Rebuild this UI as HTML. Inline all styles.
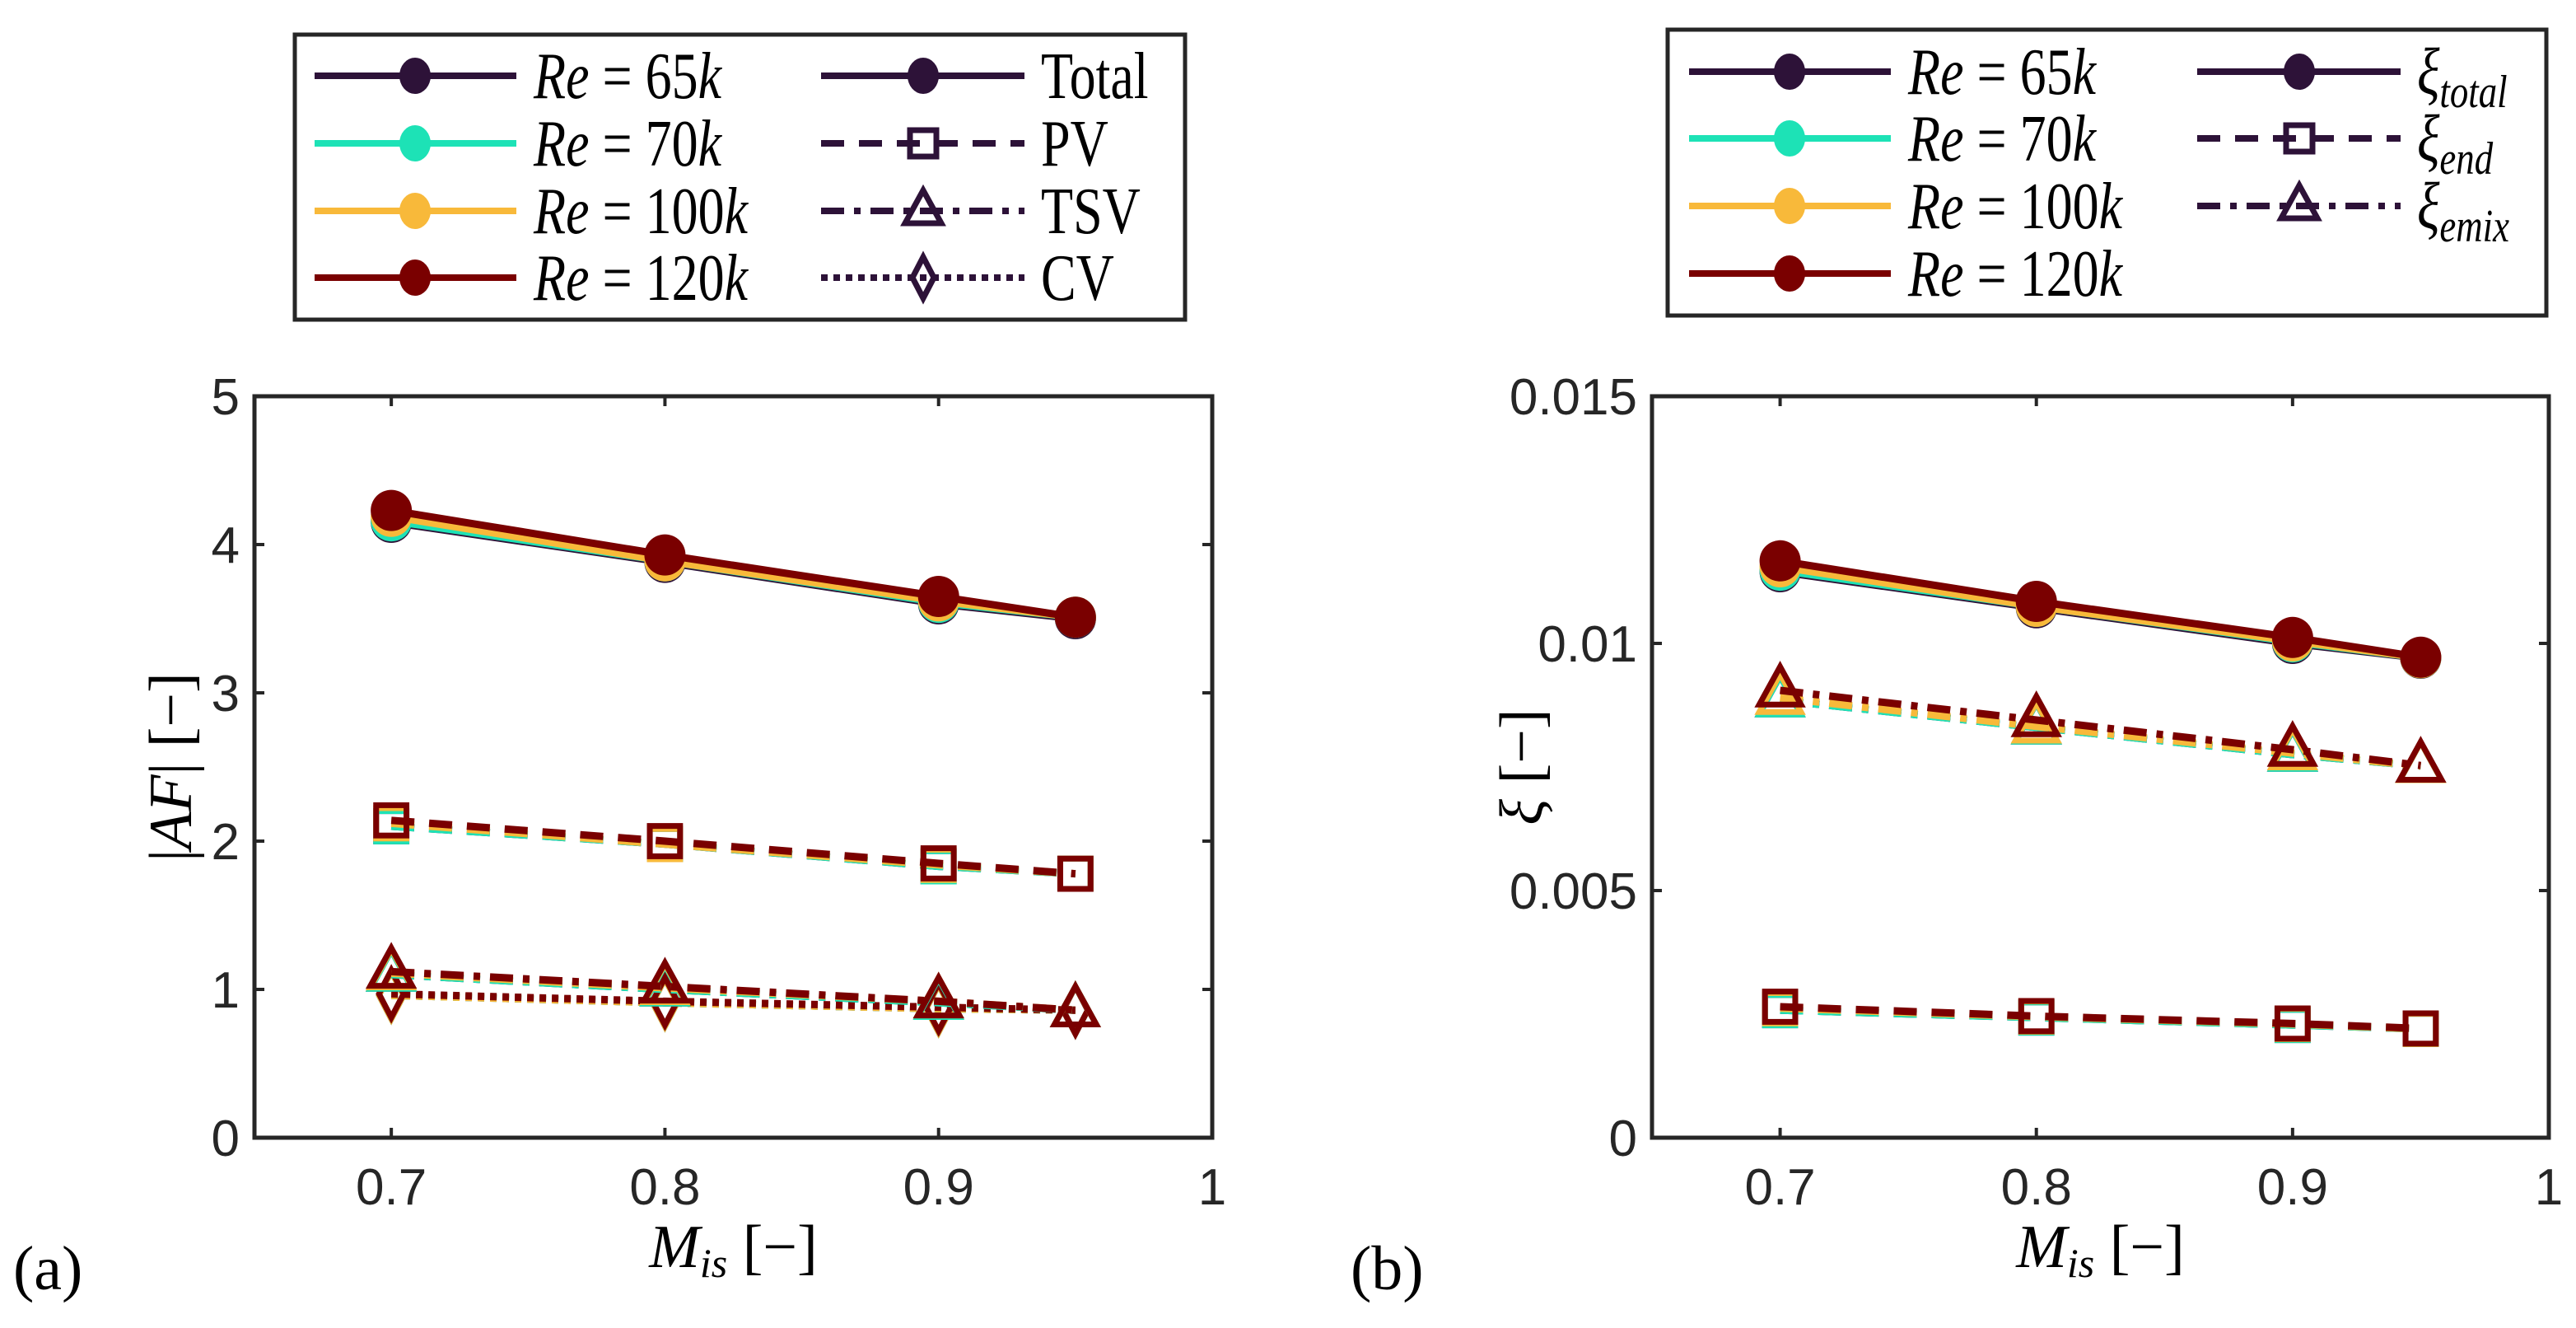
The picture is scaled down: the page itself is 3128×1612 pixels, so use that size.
<!DOCTYPE html>
<html><head><meta charset="utf-8"><style>
html,body{margin:0;padding:0;background:#fff;}
svg{display:block;}
text{font-family:"Liberation Sans",sans-serif;fill:#262626;}
.ser{font-family:"Liberation Serif",serif;fill:#000;}
</style></head><body>
<svg id="fig" width="3128" height="1612" viewBox="0 0 3128 1612" xmlns="http://www.w3.org/2000/svg"></svg>
<script>
// ---- data ----
const machValues = [0.7, 0.8, 0.9, 0.95];
const reLabels = ["65k", "70k", "100k", "120k"];
const reColors = ["#2d1238", "#1de2b6", "#f8b93a", "#7a0000"];
// Panel (a) |AF|
const afTotal65 = [4.15, 3.88, 3.60, 3.50];
const afTotal70 = [4.16, 3.89, 3.61, 3.51];
const afTotal100 = [4.19, 3.89, 3.62, 3.51];
const afTotal120 = [4.23, 3.93, 3.65, 3.51];
const afPV65 = [2.10, 1.98, 1.83, 1.78];
const afPV70 = [2.10, 1.98, 1.83, 1.78];
const afPV100 = [2.12, 1.98, 1.84, 1.78];
const afPV120 = [2.14, 2.00, 1.85, 1.78];
const afTSV65 = [1.10, 1.00, 0.91, 0.86];
const afTSV70 = [1.10, 1.00, 0.91, 0.86];
const afTSV100 = [1.11, 1.01, 0.92, 0.86];
const afTSV120 = [1.12, 1.02, 0.92, 0.86];
const afCV65 = [0.96, 0.91, 0.87, 0.86];
const afCV70 = [0.96, 0.91, 0.87, 0.86];
const afCV100 = [0.96, 0.91, 0.87, 0.86];
const afCV120 = [0.97, 0.92, 0.88, 0.86];
// Panel (b) xi
const xiTotal65 = [0.01145, 0.01072, 0.01000, 0.00970];
const xiTotal70 = [0.01148, 0.01075, 0.01003, 0.00971];
const xiTotal100 = [0.01155, 0.01075, 0.01005, 0.00971];
const xiTotal120 = [0.01167, 0.01085, 0.01012, 0.00972];
const xiEnd65 = [0.00258, 0.00243, 0.00228, 0.00220];
const xiEnd70 = [0.00258, 0.00243, 0.00228, 0.00220];
const xiEnd100 = [0.00262, 0.00245, 0.00230, 0.00220];
const xiEnd120 = [0.00265, 0.00246, 0.00231, 0.00221];
const xiEmix65 = [0.00885, 0.00830, 0.00775, 0.00752];
const xiEmix70 = [0.00885, 0.00830, 0.00775, 0.00752];
const xiEmix100 = [0.00890, 0.00832, 0.00778, 0.00752];
const xiEmix120 = [0.00905, 0.00845, 0.00785, 0.00753];
const xTicks = [0.7, 0.8, 0.9, 1];
const xTickLabels = ["0.7", "0.8", "0.9", "1"];
const afTicks = [0, 1, 2, 3, 4, 5];
const afTickLabels = ["0", "1", "2", "3", "4", "5"];
const xiTicks = [0, 0.005, 0.01, 0.015];
const xiTickLabels = ["0", "0.005", "0.01", "0.015"];

const NS = "http://www.w3.org/2000/svg";
const svg = document.getElementById("fig");
function mk(tag, attrs, parent){
  const e = document.createElementNS(NS, tag);
  for (const k in attrs) e.setAttribute(k, attrs[k]);
  (parent || svg).appendChild(e);
  return e;
}
const DASH = {solid:"", dash:"28 18", dashdot:"28 12 8 12", dot:"8 7"};

function marker(g, type, x, y, color, big){
  let m;
  const s = big ? 1.15 : 1;
  if (type === "circle") m = mk("circle", {cx:x, cy:y, r:big?25:19, fill:color}, g);
  else if (type === "square") m = mk("rect", {x:x-16*s, y:y-16*s, width:32*s, height:32*s, fill:"none", stroke:color, "stroke-width":7}, g);
  else if (type === "triangle") m = mk("polygon", {points:`${x},${y-25*s} ${x+22*s},${y+15*s} ${x-22*s},${y+15*s}`, fill:"none", stroke:color, "stroke-width":7}, g);
  else m = mk("polygon", {points:`${x},${y-25*s} ${x+13*s},${y} ${x},${y+25*s} ${x-13*s},${y}`, fill:"none", stroke:color, "stroke-width":7}, g);
  return m;
}

function panel(p){
  const X = v => p.x0 + (v - p.xmin) / (p.xmax - p.xmin) * (p.x1 - p.x0);
  const Y = v => p.y1 - (v - p.ymin) / (p.ymax - p.ymin) * (p.y1 - p.y0);
  const g = mk("g", {});
  
  
  p.series.forEach(s => {
    const sg = mk("g", {}, g);
    
    
    const pts = machValues.map((m, i) => X(m) + "," + Y(s.values[i])).join(" ");
    const pl = mk("polyline", {points:pts, fill:"none", stroke:s.color, "stroke-width":9, "stroke-dasharray":DASH[s.dash]}, sg);
    
    
    machValues.forEach((m, i) => {
      const mm = marker(sg, s.marker, X(m), Y(s.values[i]), s.color, true);
      
      
    });
  });
  const box = mk("rect", {x:p.x0, y:p.y0, width:p.x1-p.x0, height:p.y1-p.y0, fill:"none", stroke:"#262626", "stroke-width":5});
  
  
  xTicks.forEach((t, i) => {
    const x = X(t);
    mk("line", {x1:x, x2:x, y1:p.y1, y2:p.y1-12, stroke:"#262626", "stroke-width":4});
    mk("line", {x1:x, x2:x, y1:p.y0, y2:p.y0+12, stroke:"#262626", "stroke-width":4});
    const tl = mk("text", {x:x, y:1462, "font-size":62, "text-anchor":"middle"});
    tl.textContent = xTickLabels[i];
    
    
  });
  p.yTicks.forEach((t, i) => {
    const y = Y(t);
    mk("line", {x1:p.x0, x2:p.x0+12, y1:y, y2:y, stroke:"#262626", "stroke-width":4});
    mk("line", {x1:p.x1, x2:p.x1-12, y1:y, y2:y, stroke:"#262626", "stroke-width":4});
    const tl = mk("text", {x:p.x0-18, y:y+22, "font-size":62, "text-anchor":"end"});
    tl.textContent = p.yTickLabels[i];
    
    
  });
  const xl = mk("text", {x:(p.x0+p.x1)/2, y:1538, "font-size":74, "text-anchor":"middle", class:"ser", fill:"#333"});
  xl.innerHTML = '<tspan font-style="italic">M</tspan><tspan font-style="italic" font-size="50" dy="12">is</tspan><tspan dy="-12"> [−]</tspan>';
  
  
  const yl = mk("text", {x:0, y:0, "font-size":74, "text-anchor":"middle", class:"ser", transform:`translate(${p.ylx},${(p.y0+p.y1)/2}) rotate(-90)`});
  yl.innerHTML = p.ylabel;
  
  
  const pl = mk("text", {x:p.tagx, y:1565, "font-size":76, class:"ser"});
  pl.textContent = p.tag;
  
  
}

function ser(prefix, arrs, marker, dash){
  return arrs.map((v, i) => ({name: prefix + "-re" + reLabels[i], values:v, color:reColors[i], marker, dash}));
}

panel({name:"panel-a", x0:309, x1:1472, y0:481, y1:1381, xmin:0.65, xmax:1, ymin:0, ymax:5,
  yTicks:afTicks, yTickLabels:afTickLabels, ylx:232, tag:"(a)", tagx:16,
  ylabel:'|<tspan font-style="italic">AF</tspan>| [−]',
  series:[].concat(
    ser("cv", [afCV65, afCV70, afCV100, afCV120], "diamond", "dot"),
    ser("tsv", [afTSV65, afTSV70, afTSV100, afTSV120], "triangle", "dashdot"),
    ser("pv", [afPV65, afPV70, afPV100, afPV120], "square", "dash"),
    ser("total", [afTotal65, afTotal70, afTotal100, afTotal120], "circle", "solid"))});

panel({name:"panel-b", x0:2006, x1:3095, y0:481, y1:1381, xmin:0.65, xmax:1, ymin:0, ymax:0.015,
  yTicks:xiTicks, yTickLabels:xiTickLabels, ylx:1872, tag:"(b)", tagx:1640,
  ylabel:'<tspan font-style="italic">ξ</tspan> [−]',
  series:[].concat(
    ser("end", [xiEnd65, xiEnd70, xiEnd100, xiEnd120], "square", "dash"),
    ser("emix", [xiEmix65, xiEmix70, xiEmix100, xiEmix120], "triangle", "dashdot"),
    ser("total", [xiTotal65, xiTotal70, xiTotal100, xiTotal120], "circle", "solid"))});

// ---- legends ----
function legend(name, bx, by, bw, bh, col1x, col2x, rows, typeEntries){
  const g = mk("g", {});
  
  
  mk("rect", {x:bx, y:by, width:bw, height:bh, fill:"#fff", stroke:"#262626", "stroke-width":5}, g);
  reLabels.forEach((r, i) => {
    const y = rows[i];
    const e = mk("g", {}, g);
    
    
    mk("line", {x1:col1x, x2:col1x+245, y1:y, y2:y, stroke:reColors[i], "stroke-width":8}, e);
    mk("ellipse", {cx:col1x+122, cy:y, rx:19, ry:22, fill:reColors[i]}, e);
    const t = mk("text", {x:0, y:0, "font-size":80, class:"ser", transform:`translate(${col1x+266},${y+27}) scale(0.8,1)`}, e);
    t.innerHTML = '<tspan font-style="italic">Re</tspan> = ' + r.replace('k','') + '<tspan font-style="italic">k</tspan>';
  });
  typeEntries.forEach((te, i) => {
    const y = rows[i];
    const e = mk("g", {}, g);
    
    
    mk("line", {x1:col2x, x2:col2x+247, y1:y, y2:y, stroke:"#2d1238", "stroke-width":8, "stroke-dasharray":DASH[te.dash]}, e);
    if (te.marker === "circle") mk("ellipse", {cx:col2x+124, cy:y, rx:19, ry:22, fill:"#2d1238"}, e);
    else marker(e, te.marker, col2x+124, y, "#2d1238", false);
    const t = mk("text", {x:0, y:0, "font-size":80, class:"ser", transform:`translate(${col2x+267},${y+27}) scale(0.8,1)`}, e);
    t.innerHTML = te.label;
  });
}
legend("legend-a", 358, 42, 1081, 346, 382, 997, [92, 174, 256, 337], [
  {id:"total", marker:"circle", dash:"solid", label:"Total"},
  {id:"pv", marker:"square", dash:"dash", label:"PV"},
  {id:"tsv", marker:"triangle", dash:"dashdot", label:"TSV"},
  {id:"cv", marker:"diamond", dash:"dot", label:"CV"}]);
legend("legend-b", 2025, 36, 1067, 347, 2051, 2668, [87, 168, 250, 332], [
  {id:"xi-total", marker:"circle", dash:"solid", label:'<tspan font-style="italic">ξ</tspan><tspan font-style="italic" font-size="56" dy="16">total</tspan>'},
  {id:"xi-end", marker:"square", dash:"dash", label:'<tspan font-style="italic">ξ</tspan><tspan font-style="italic" font-size="56" dy="16">end</tspan>'},
  {id:"xi-emix", marker:"triangle", dash:"dashdot", label:'<tspan font-style="italic">ξ</tspan><tspan font-style="italic" font-size="56" dy="16">emix</tspan>'}]);
</script>
</body></html>
